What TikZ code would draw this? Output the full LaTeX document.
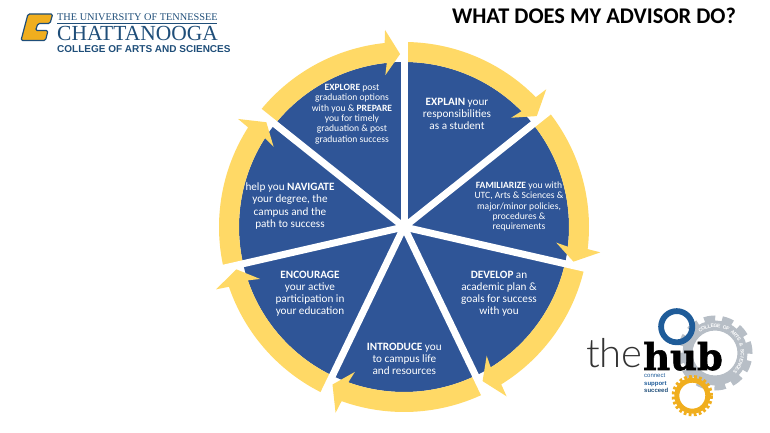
\documentclass[tikz,border=0pt]{standalone}
\usepackage{fontspec}
\setmainfont{Carlito}
\newfontfamily\logoserif{Liberation Serif}
\newfontfamily\logosans{Liberation Sans}
\newfontfamily\thinfont{Lato}[UprightFont={* Light}]
\newfontfamily\slabfont{DejaVu Serif}[BoldFeatures={FakeBold=1.5}]
\definecolor{wedgeblue}{HTML}{2F5597}
\definecolor{ringyellow}{HTML}{FFD966}
\definecolor{logoblue}{HTML}{1F4E79}
\definecolor{logogold}{HTML}{F0AE1E}
\definecolor{ringblue}{HTML}{1F5C99}
\definecolor{geargray}{HTML}{B7BEC6}
\tikzset{
  big/.style={text=white,align=center,font=\fontsize{11.2}{12.3}\selectfont,inner sep=0pt},
  small/.style={text=white,align=center,font=\fontsize{9.6}{10.3}\selectfont,inner sep=0pt},
  logotext/.style={anchor=west,inner sep=0pt,text=logoblue},
  gearletter/.style={text=white,inner sep=0pt,font=\logosans\bfseries\fontsize{5}{5}\selectfont},
}

\begin{document}
\begin{tikzpicture}[x=1pt,y=1pt]
\useasboundingbox (0,0) rectangle (770,433);

% Centre of the wheel
\coordinate (O) at (404,206);
\fill[wedgeblue] (O) circle (165);

% Draw ring arrows and the white spokes
\begin{scope}[shift={(O)}]
\foreach \a in {90,38.57,-12.86,-64.29,-115.71,-167.14,141.43} {
  \pgfmathsetmacro{\e}{\a-51.43}
  \fill[ringyellow] (\a:185) arc [start angle=\a,end angle=\e+6,radius=185]
    -- (\e+5.5:198) -- (\e+1.3:173) -- (\e+7:153) -- (\e+6:165)
    arc [start angle=\e+6,end angle=\a,radius=165] -- cycle;
}
\foreach \a [count=\i] in {90,38.57,-12.86,-64.29,-115.71,-167.14,141.43} {
  \coordinate (S\i) at (\a:191);
  \draw[white,line width=7pt] (0,0) -- (S\i);
}
\end{scope}

% Text of the wedges
\node[big] (explain) at (457,319) {\textbf{EXPLAIN} your\\responsibilities\\as a student};
\node[small] (familiarize) at (519,226.5) {\textbf{FAMILIARIZE} you with\\UTC, Arts \& Sciences \&\\major/minor policies,\\procedures \&\\requirements};
\node[big] (develop) at (499,139.3) {\textbf{DEVELOP} an\\academic plan \&\\goals for success\\with you};
\node[big] (introduce) at (404.3,74) {\textbf{INTRODUCE} you\\to campus life\\and resources};
\node[big] (encourage) at (310,139.3) {\textbf{ENCOURAGE}\\your active\\participation in\\your education};
\node[big] (navigate) at (290,227) {help you \textbf{NAVIGATE}\\your degree, the\\campus and the\\path to success};
\node[small] (explore) at (352,319) {\textbf{EXPLORE} post\\graduation options\\with you \& \textbf{PREPARE}\\you for timely\\graduation \& post\\graduation success};

% Title
\node[inner sep=0pt,font=\fontsize{22.4}{24}\selectfont\bfseries] (title) at (594,417) {WHAT DOES MY ADVISOR DO?};

% University logo
\draw[fill=logogold,draw=logoblue,line width=1.2pt,line join=round,rounded corners=1.5pt]
  (28,419) -- (52.7,419) -- (50,409.5) -- (38,409.5) -- (35.5,402.5) -- (48,402.5) -- (45.5,392.5) -- (21,392.5) -- cycle;
\node[logotext,font=\logoserif\fontsize{10.3}{12}\selectfont] (utc) at (57,416) {THE UNIVERSITY OF TENNESSEE};
\coordinate (ruleL) at (57,410);
\coordinate (ruleR) at (217,410);
\draw[logoblue,line width=.5pt] (ruleL) -- (ruleR);
\node[logotext,font=\logoserif\fontsize{21.5}{22}\selectfont] (chatt) at (57,400) {CHATTANOOGA};
\node[logotext,font=\logosans\bfseries\fontsize{10}{10}\selectfont] (college) at (57,384) {COLLEGE OF ARTS AND SCIENCES};

% The hub logo, gears first
\coordinate (G) at (715,80);
\draw[geargray,line width=10pt] (G) circle (27.5);
\draw[geargray,line width=6pt,dash pattern=on 11pt off 7pt] (G) circle (34.5);
\begin{scope}[shift={(G)}]
\foreach \c [count=\i] in {C,O,L,L,E,G,E,{},O,F,{},A,R,T,S,{},\&,{},S,C,I,E,N,C,E,S} {
  \pgfmathsetmacro{\t}{122-(\i-1)*6.6}
  \node[gearletter,rotate=\t-90] (L\i) at (\t:27.5) {\c};
}
\end{scope}
\draw[ringblue,line width=5.8pt] (676.7,106.3) circle (15.6);
\coordinate (Y) at (692.3,37.3);
\draw[logogold,line width=5pt] (Y) circle (15.5);
\draw[logogold,line width=3pt,dash pattern=on 2.8pt off 2.3pt] (Y) circle (19.2);
\node[anchor=base west,inner sep=0pt,text=black!80,font=\thinfont\fontsize{40}{40}\selectfont] (the) at (586,65) {the};
\node[anchor=base west,inner sep=0pt,text=black,font=\slabfont\bfseries\fontsize{37}{37}\selectfont] (hub) at (643,63) {hub};
\node[anchor=base west,inner sep=0pt,text=ringblue,font=\logosans\fontsize{6}{6}\selectfont] (connect) at (644,55) {connect};
\node[anchor=base west,inner sep=0pt,text=ringblue,font=\logosans\bfseries\fontsize{6}{6}\selectfont] (support) at (644,47.5) {support};
\node[anchor=base west,inner sep=0pt,text=logoblue,font=\logosans\bfseries\fontsize{6}{6}\selectfont] (succeed) at (644,40) {succeed};

\end{tikzpicture}
\end{document}
